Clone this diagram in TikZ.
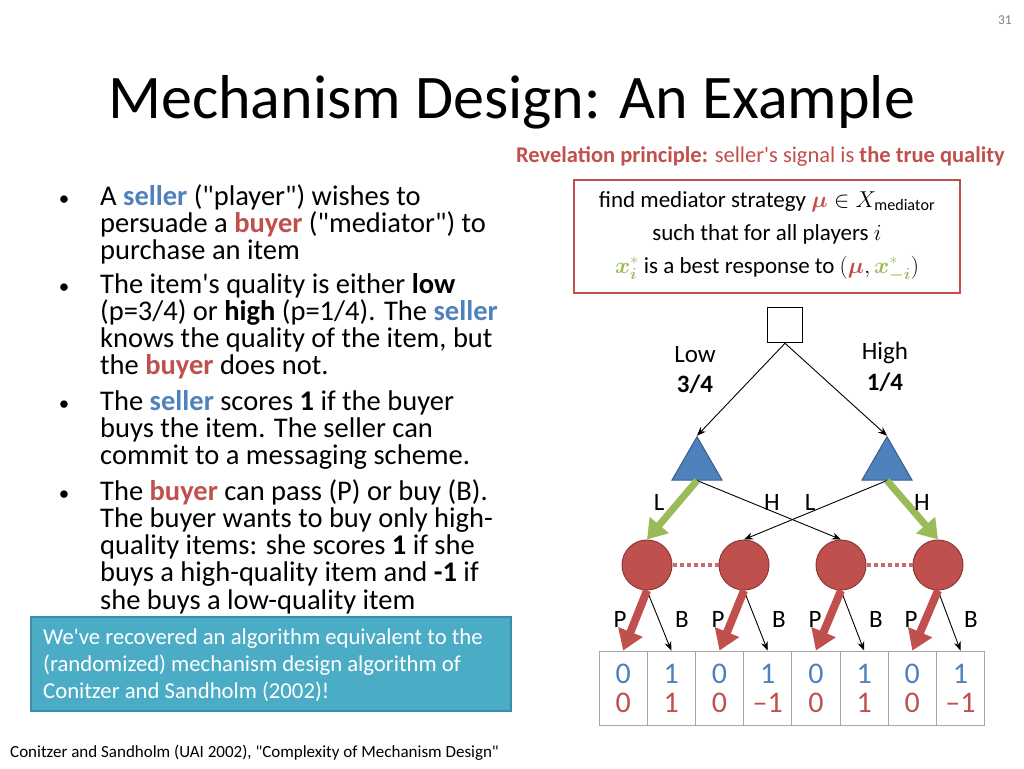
\RequirePackage{fix-cm}
\documentclass[tikz,border=0pt]{standalone}
\usepackage{amsmath,bm}
\usepackage{fontspec}
\setmainfont{Carlito}[Ligatures=TeXOff]
\usetikzlibrary{arrows.meta,shapes.geometric}
\definecolor{sblue}{HTML}{4F81BD}
\definecolor{sbluedk}{HTML}{385D8A}
\definecolor{bred}{HTML}{C0504D}
\definecolor{breddk}{HTML}{8C3836}
\definecolor{ggreen}{HTML}{9BBB59}
\definecolor{tealbox}{HTML}{4BACC6}
\definecolor{tealdk}{HTML}{3A8EA6}
\newcommand{\sel}{\textcolor{sblue}{\textbf{seller}}}
\newcommand{\buy}{\textcolor{bred}{\textbf{buyer}}}
\begin{document}
\begin{tikzpicture}[x=1pt,y=-1pt,
  body/.style={anchor=base west,inner sep=0pt,font=\fontsize{28.5}{28.5}\selectfont},
  bul/.style={anchor=base,inner sep=0pt,font=\fontsize{21}{21}\selectfont},
  boxtxt/.style={anchor=base,inner sep=0pt,font=\fontsize{23}{23}\selectfont},
  lbl/.style={anchor=center,inner sep=0pt,font=\fontsize{25}{25}\selectfont},
  thin/.style={draw=black,line width=0.9pt,-{Stealth[length=9pt,width=7pt]}},
  green/.style={draw=ggreen,line width=7pt,-{Triangle[length=19pt,width=24pt]}},
  redarr/.style={draw=bred,line width=8pt,-{Triangle[length=20pt,width=25pt]}},
  tri/.style={regular polygon,regular polygon sides=3,minimum size=57.7pt,inner sep=0pt,fill=sblue,draw=sbluedk,line width=1pt},
  circ/.style={circle,minimum size=50pt,inner sep=0pt,fill=bred,draw=breddk,line width=1pt},
  leaf/.style={rectangle,minimum width=48.2pt,minimum height=74pt,inner sep=0pt,draw=black!35,line width=0.8pt,align=center,font=\fontsize{30}{29}\selectfont},
  infoset/.style={draw=bred!85,line width=4pt,dash pattern=on 4pt off 3pt},
  calltxt/.style={anchor=base west,inner sep=0pt,text=white,font=\fontsize{22.7}{22.7}\selectfont}
]
\useasboundingbox (0,0) rectangle (1024,768);

% page number and title
\node[anchor=base east,inner sep=0pt,font=\fontsize{13.5}{13.5}\selectfont,text=black!50] (pg) at (1012,25) {31};
\node[anchor=base west,inner sep=0pt,font=\fontsize{62}{62}\selectfont] (title) at (108,118) {Mechanism Design: An Example};

% revelation principle
\node[anchor=base east,inner sep=0pt,font=\fontsize{22.5}{22.5}\selectfont,text=bred] (rev) at (1005,162)
  {\textbf{Revelation principle:} seller's signal is \textbf{the true quality}};

% box
\draw[bred,line width=2pt] (574,180) rectangle (960,293);
\node[boxtxt] (m1) at (767,207) {find mediator strategy $\textcolor{bred}{\bm{\mu}} \in X_{\mathrm{mediator}}$};
\node[boxtxt] (m2) at (767,240) {such that for all players $i$};
\node[boxtxt] (m3) at (767,273) {$\textcolor{ggreen}{\bm{x}_{\bm{i}}^{*}}$ is a best response to $(\textcolor{bred}{\bm{\mu}}, \textcolor{ggreen}{\bm{x}_{\bm{-i}}^{*}})$};

% bullets
\node[bul] (b1) at (64,205) {•};
\node[bul] (b2) at (64,293) {•};
\node[bul] (b3) at (64,410) {•};
\node[bul] (b4) at (64,500) {•};
\node[body] (l1) at (100,205) {A \sel{} ("player") wishes to};
\node[body] (l2) at (100,232.3) {persuade a \buy{} ("mediator") to};
\node[body] (l3) at (100,259.6) {purchase an item};
\node[body] (l4) at (100,293) {The item's quality is either \textbf{low}};
\node[body] (l5) at (100,320.3) {(p=3/4) or \textbf{high} (p=1/4). The \sel};
\node[body] (l6) at (100,347.6) {knows the quality of the item, but};
\node[body] (l7) at (100,374.9) {the \buy{} does not.};
\node[body] (l8) at (100,410) {The \sel{} scores \textbf{1} if the buyer};
\node[body] (l9) at (100,437.3) {buys the item. The seller can};
\node[body] (l10) at (100,464.6) {commit to a messaging scheme.};
\node[body] (l11) at (100,500) {The \buy{} can pass (P) or buy (B).};
\node[body] (l12) at (100,527.3) {The buyer wants to buy only high-};
\node[body] (l13) at (100,554.6) {quality items: she scores \textbf{1} if she};
\node[body] (l14) at (100,581.9) {buys a high-quality item and \textbf{-1} if};
\node[body] (l15) at (100,609.2) {she buys a low-quality item};

% callout
\node[draw=tealdk,fill=tealbox,line width=1.5pt,minimum width=480pt,minimum height=94pt,inner sep=0pt] (call) at (271,664) {};
\node[calltxt] (c1t) at (43,644) {We've recovered an algorithm equivalent to the};
\node[calltxt] (c2t) at (43,671) {(randomized) mechanism design algorithm of};
\node[calltxt] (c3t) at (43,698) {Conitzer and Sandholm (2002)!};

% footer
\node[anchor=base west,inner sep=0pt,font=\fontsize{17}{17}\selectfont] (foot) at (10,757) {Conitzer and Sandholm (UAI 2002), "Complexity of Mechanism Design"};

% tree
\node[draw=black,line width=1.5pt,minimum size=35pt,inner sep=0pt] (root) at (785,325) {};
\node[tri] (tL) at (697,465.6) {};
\node[tri] (tR) at (887,465.6) {};
\draw[thin] (root.south) -- (tL.corner 1);
\draw[thin] (root.south) -- (tR.corner 1);
\node[lbl] (low) at (695,355) {Low};
\node[lbl] (lowp) at (695,384) {\textbf{3/4}};
\node[lbl] (high) at (885,353) {High};
\node[lbl] (highp) at (885,382) {\textbf{1/4}};

\node[circ] (c1) at (647,565) {};
\node[circ] (c2) at (744,565) {};
\node[circ] (c3) at (841,565) {};
\node[circ] (c4) at (938,565) {};
\draw[infoset] (c1.east) -- (c2.west);
\draw[infoset] (c3.east) -- (c4.west);

\draw[thin] (tL.south) -- (c3.north);
\draw[thin] (tR.south) -- (c2.north);
\draw[green] (tL.south) -- (c1.north);
\draw[green] (tR.south) -- (c4.north);
\node[lbl] (eL1) at (659,502) {L};
\node[lbl] (eH1) at (772,502) {H};
\node[lbl] (eL2) at (810,502) {L};
\node[lbl] (eH2) at (922,502) {H};

% leaves
\node[leaf] (k1) at (623.1,688) {\textcolor{sblue}{0}\\\textcolor{bred}{0}};
\node[leaf] (k2) at (671.3,688) {\textcolor{sblue}{1}\\\textcolor{bred}{1}};
\node[leaf] (k3) at (719.5,688) {\textcolor{sblue}{0}\\\textcolor{bred}{0}};
\node[leaf] (k4) at (767.7,688) {\textcolor{sblue}{1}\\\textcolor{bred}{–1}};
\node[leaf] (k5) at (815.9,688) {\textcolor{sblue}{0}\\\textcolor{bred}{0}};
\node[leaf] (k6) at (864.1,688) {\textcolor{sblue}{1}\\\textcolor{bred}{1}};
\node[leaf] (k7) at (912.3,688) {\textcolor{sblue}{0}\\\textcolor{bred}{0}};
\node[leaf] (k8) at (960.5,688) {\textcolor{sblue}{1}\\\textcolor{bred}{–1}};

\foreach \c/\p/\b in {c1/k1/k2,c2/k3/k4,c3/k5/k6,c4/k7/k8}{
  \draw[thin] (\c.south) -- (\b.north);
  \draw[redarr] (\c.south) -- (\p.north);
}
\node[lbl] (P1) at (620,619) {P};
\node[lbl] (B1) at (682,619) {B};
\node[lbl] (P2) at (718,619) {P};
\node[lbl] (B2) at (779,619) {B};
\node[lbl] (P3) at (815,619) {P};
\node[lbl] (B3) at (876,619) {B};
\node[lbl] (P4) at (911,619) {P};
\node[lbl] (B4) at (971,619) {B};
\end{tikzpicture}
\end{document}
